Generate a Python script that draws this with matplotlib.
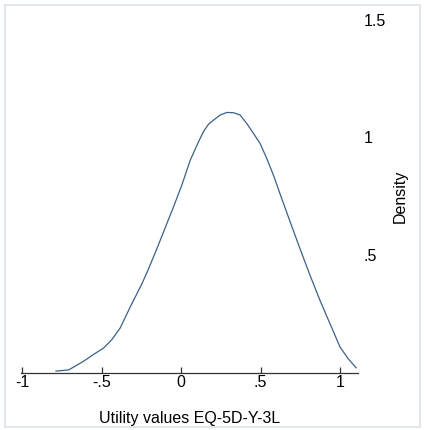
import matplotlib
matplotlib.use("Agg")
import matplotlib.pyplot as plt
from matplotlib.patches import Rectangle

# Kernel density of utility values
utility = [-0.788, -0.709, -0.677, -0.614, -0.551, -0.488, -0.436, -0.384,
           -0.321, -0.247, -0.205, -0.153, -0.090, -0.048, 0.004, 0.057,
           0.109, 0.140, 0.172, 0.203, 0.245, 0.287, 0.329, 0.371, 0.413,
           0.455, 0.497, 0.539, 0.581, 0.633, 0.686, 0.748, 0.811, 0.874,
           0.937, 1.000, 1.052, 1.101]
density = [0.006, 0.011, 0.023, 0.048, 0.077, 0.104, 0.140, 0.189,
           0.278, 0.377, 0.441, 0.526, 0.633, 0.704, 0.796, 0.902,
           0.980, 1.023, 1.055, 1.072, 1.094, 1.105, 1.104, 1.094, 1.058,
           1.016, 0.973, 0.909, 0.838, 0.739, 0.640, 0.526, 0.413, 0.306,
           0.207, 0.108, 0.058, 0.020]

x_ticks = [-1, -0.5, 0, 0.5, 1]
x_tick_labels = ["-1", "-.5", "0", ".5", "1"]
y_ticks = [0.5, 1, 1.5]
y_tick_labels = [".5", "1", "1.5"]

plt.rcParams["font.family"] = ["Liberation Sans", "DejaVu Sans"]
fs = 11.5

W, H = 424, 430
fig = plt.figure(figsize=(W / 100, H / 100), dpi=100)

# light frame around the whole graph
fig.patches.append(Rectangle((5 / W, 3.5 / H), 415 / W, 421.5 / H,
                             transform=fig.transFigure, fill=False,
                             edgecolor="#dbe2ea", linewidth=1.2))

ax = fig.add_axes([20.7 / W, 57.5 / H, 337.3 / W, 353 / H])
ax.plot(utility, density, color="#3b6188", linewidth=0.9)

ax.set_xlim(-1.01, 1.113)
ax.set_ylim(0, 1.5)

for side in ["top", "left", "right"]:
    ax.spines[side].set_visible(False)
ax.spines["bottom"].set_color("#333333")
ax.spines["bottom"].set_linewidth(0.9)

ax.set_xticks(x_ticks)
ax.set_xticklabels(x_tick_labels)
ax.tick_params(axis="x", direction="in", length=4, width=0.9,
               color="#333333", pad=2, labelsize=fs)

ax.yaxis.tick_right()
ax.yaxis.set_label_position("right")
ax.set_yticks(y_ticks)
ax.set_yticklabels(y_tick_labels)
ax.tick_params(axis="y", length=0, pad=4, labelsize=fs)

ax.set_xlabel("Utility values EQ-5D-Y-3L", labelpad=15, fontsize=fs)
ax.set_ylabel("Density", labelpad=5, fontsize=fs)

fig.savefig("out.png", dpi=100)
